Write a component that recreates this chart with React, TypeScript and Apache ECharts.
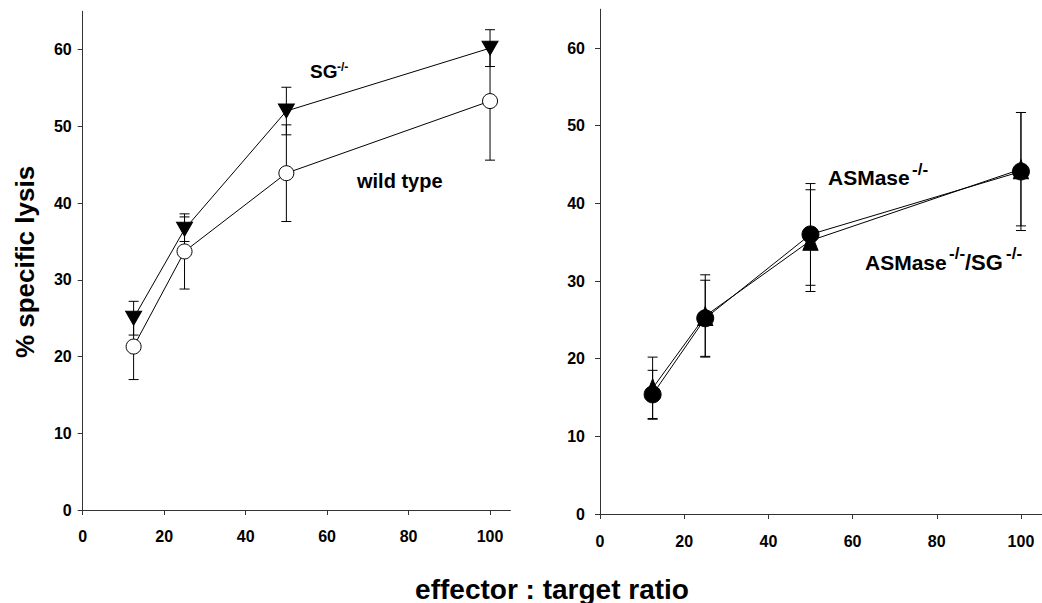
import React, { useEffect, useRef } from "react";
import * as echarts from "echarts";

// effector : target ratios
const ratios = [12.5, 25, 50, 100];

// left panel
const wildType = [21.3, 33.7, 43.9, 53.3];
const wildTypeErr = [4.3, 4.9, 6.3, 7.7];
const sgKo = [25.0, 36.6, 52.0, 60.2];
const sgKoErr = [2.2, 1.6, 3.1, 2.4];

// right panel
const asmKo = [15.4, 25.2, 36.0, 44.1];
const asmKoErr = [3.1, 4.9, 6.55, 7.6];
const asmSgKo = [16.2, 25.5, 35.2, 44.4];
const asmSgKoErr = [4.0, 5.3, 6.55, 7.3];

const xTicks = [0, 20, 40, 60, 80, 100];
const yTicks = [0, 10, 20, 30, 40, 50, 60];

const FONT = "Liberation Sans, Arial, Helvetica, sans-serif";
const AXIS_COLOR = "#333";

function errorSeries(idx: number, values: number[], errs: number[], z: number) {
  return {
    type: "custom",
    xAxisIndex: idx,
    yAxisIndex: idx,
    silent: true,
    z,
    encode: { x: 0, y: [1, 2] },
    data: ratios.map((x, i) => [x, values[i] - errs[i], values[i] + errs[i]]),
    renderItem: (params: any, api: any) => {
      const lo = api.coord([api.value(0), api.value(1)]);
      const hi = api.coord([api.value(0), api.value(2)]);
      const hw = 5;
      const st = { stroke: "#000", lineWidth: 1 };
      return {
        type: "group",
        children: [
          { type: "line", shape: { x1: lo[0], y1: lo[1], x2: hi[0], y2: hi[1] }, style: st },
          { type: "line", shape: { x1: lo[0] - hw, y1: lo[1], x2: lo[0] + hw, y2: lo[1] }, style: st },
          { type: "line", shape: { x1: hi[0] - hw, y1: hi[1], x2: hi[0] + hw, y2: hi[1] }, style: st },
        ],
      };
    },
  };
}

function lineSeries(idx: number, name: string, values: number[], symbol: string, size: any, fill: string, rotate: number, z: number) {
  return {
    type: "line",
    name,
    xAxisIndex: idx,
    yAxisIndex: idx,
    data: ratios.map((x, i) => [x, values[i]]),
    symbol,
    symbolSize: size,
    symbolRotate: rotate,
    showAllSymbol: true,
    z,
    lineStyle: { color: "#000", width: 1 },
    itemStyle: { color: fill, borderColor: "#000", borderWidth: 1, opacity: 1 },
    emphasis: { disabled: true },
  };
}

function xAxis(idx: number, margin: number) {
  return {
    type: "value",
    gridIndex: idx,
    min: 0,
    max: 105,
    interval: 20,
    axisLine: { show: true, onZero: false, lineStyle: { color: AXIS_COLOR, width: 1 } },
    axisTick: { show: true, inside: false, length: 5, customValues: xTicks, lineStyle: { color: AXIS_COLOR } },
    axisLabel: {
      customValues: xTicks,
      margin,
      color: "#000",
      fontFamily: FONT,
      fontWeight: "bold",
      fontSize: 16,
    },
    splitLine: { show: false },
  };
}

function yAxis(idx: number, margin: number) {
  return {
    type: "value",
    gridIndex: idx,
    min: 0,
    max: 65,
    interval: 10,
    axisLine: { show: true, onZero: false, lineStyle: { color: AXIS_COLOR, width: 1 } },
    axisTick: { show: true, inside: false, length: 5, customValues: yTicks, lineStyle: { color: AXIS_COLOR } },
    axisLabel: {
      customValues: yTicks,
      margin,
      color: "#000",
      fontFamily: FONT,
      fontWeight: "bold",
      fontSize: 16,
    },
    splitLine: { show: false },
  };
}

function label(text: string, x: number, y: number, size: number, align = "left", rotation = 0) {
  return {
    type: "text",
    x,
    y,
    rotation,
    silent: true,
    style: {
      text,
      fill: "#000",
      fontFamily: FONT,
      fontWeight: "bold",
      fontSize: size,
      align,
      verticalAlign: "middle",
    },
  };
}

export default function App() {
  const ref = useRef<HTMLDivElement>(null);

  useEffect(() => {
    if (!ref.current) return;
    const chart = echarts.init(ref.current, undefined, { renderer: "svg" });
    chart.setOption({
      animation: false,
      backgroundColor: "#fff",
      grid: [
        { left: 82.7, top: 11.3, width: 427.7, height: 498.7, containLabel: false },
        { left: 600, top: 9.2, width: 448.4, height: 504.8, containLabel: false },
      ],
      xAxis: [xAxis(0, 18), xAxis(1, 19)],
      yAxis: [yAxis(0, 11), yAxis(1, 15)],
      series: [
        errorSeries(0, wildType, wildTypeErr, 1),
        errorSeries(0, sgKo, sgKoErr, 1),
        lineSeries(0, "wild type", wildType, "circle", 15, "#fff", 0, 2),
        lineSeries(0, "SG-/-", sgKo, "triangle", [16, 14], "#000", 180, 3),
        errorSeries(1, asmSgKo, asmSgKoErr, 1),
        errorSeries(1, asmKo, asmKoErr, 1),
        lineSeries(1, "ASMase-/-/SG-/-", asmSgKo, "triangle", [15, 19], "#000", 0, 2),
        lineSeries(1, "ASMase-/-", asmKo, "circle", 17, "#000", 0, 3),
      ],
      graphic: [
        label("% specific lysis", 25, 262, 26, "center", Math.PI / 2),
        label("effector : target ratio", 552, 589, 28, "center"),
        label("SG", 310, 71, 19),
        label("-/-", 337, 66.5, 12),
        label("wild type", 357, 181, 20),
        label("ASMase", 828, 177, 21),
        label("-/-", 912, 169, 17),
        label("ASMase", 865, 262, 21),
        label("-/-", 949, 253, 17),
        label("/SG", 965, 262, 22),
        label("-/-", 1006, 253, 17),
      ],
    });
    return () => chart.dispose();
  }, []);

  return (
    <div
      ref={ref}
      style={{ position: "absolute", left: 0, top: 0, width: 1042, height: 603 }}
    />
  );
}
